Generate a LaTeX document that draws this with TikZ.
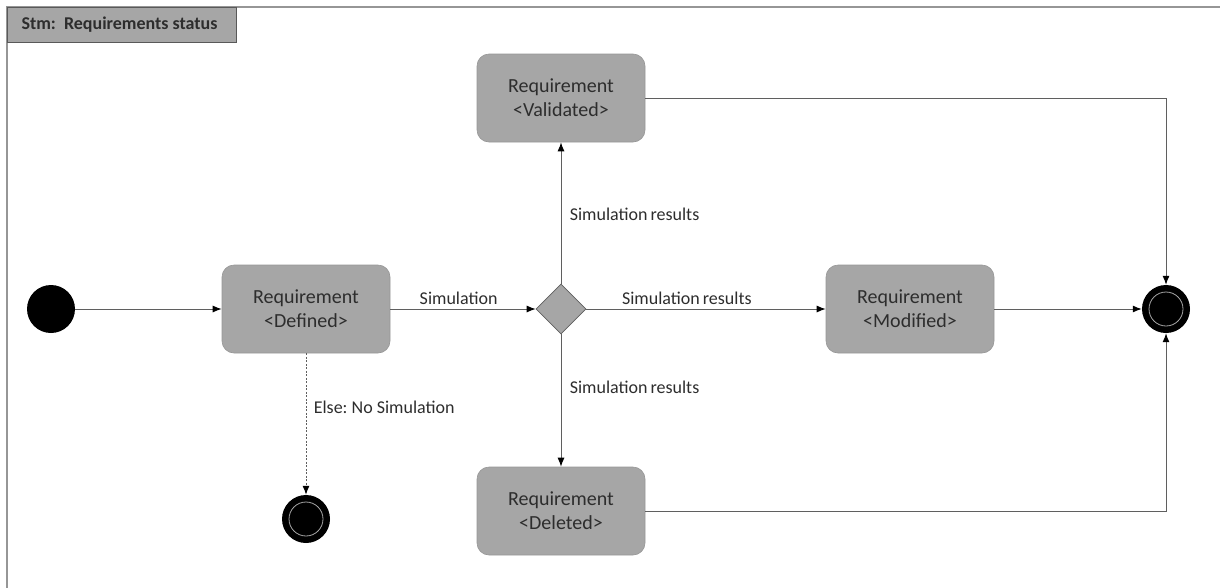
\documentclass[tikz,border=0pt]{standalone}
\usepackage{fontspec}
\setmainfont{Carlito}
\frenchspacing
\usetikzlibrary{shapes.geometric,arrows.meta}
\definecolor{boxfill}{RGB}{166,166,166}
\definecolor{boxline}{RGB}{150,150,150}
\definecolor{conn}{RGB}{95,95,95}
\definecolor{frame}{RGB}{150,150,150}
\definecolor{txt}{RGB}{45,45,45}
\tikzset{
  state/.style={draw=boxline, fill=boxfill, rounded corners=12pt, minimum width=168pt, minimum height=88pt, align=center, font=\fontsize{20}{24}\selectfont, text=txt, line width=0.6pt},
  choice/.style={diamond, draw=conn, fill=boxfill, minimum width=50pt, minimum height=50pt, inner sep=0pt, line width=0.6pt},
  initstate/.style={circle, fill=black, minimum size=48pt, inner sep=0pt},
  finalstate/.style={circle, fill=black, minimum size=48pt, inner sep=0pt, path picture={\draw[gray!70, line width=0.8pt] (path picture bounding box.center) circle (17pt);}},
  trans/.style={draw=conn, line width=1pt, -{Latex[length=9pt,width=7pt,black]}},
  lbl/.style={font=\fontsize{18}{20}\selectfont, text=txt}
}
\begin{document}
\begin{tikzpicture}[x=1pt,y=-1pt]
\useasboundingbox (0,0) rectangle (1220,587);
% frame
\draw[frame, line width=1.5pt] (7,600) -- (7,7) -- (1230,7);
\node[draw=gray!70!black, fill=boxfill, line width=0.8pt, anchor=north west, minimum width=229pt, minimum height=35pt, inner sep=0pt] (tab) at (7,7) {};
\node[font=\fontsize{18}{20}\selectfont\bfseries, text=txt, anchor=west] (tabtxt) at (18,25) {Stm:\ \ Requirements status};
% nodes
\node[initstate] (init) at (51,309) {};
\node[state] (def) at (306,309) {Requirement\\<Defined>};
\node[choice] (ch) at (561,309) {};
\node[state] (val) at (561,98) {Requirement\\<Validated>};
\node[state] (del) at (561,511) {Requirement\\<Deleted>};
\node[state] (mod) at (910,309) {Requirement\\<Modified>};
\node[finalstate] (fin) at (1166,309) {};
\node[finalstate] (fin2) at (306,519) {};
% transitions
\draw[trans] (init) -- (def);
\draw[trans] (def) -- node[lbl, above=1pt, pos=0.47] {Simulation} (ch);
\draw[trans] (ch) -- node[lbl, above=1pt, pos=0.42] {Simulation\,results} (mod);
\draw[trans] (ch) -- node[lbl, right=5pt, pos=0.49] {Simulation\,results} (val);
\draw[trans] (ch) -- node[lbl, right=5pt, pos=0.4] {Simulation\,results} (del);
\draw[trans] (mod) -- (fin);
\draw[trans] (val.east) -| (fin.north);
\draw[trans] (del.east) -| (fin.south);
\draw[trans, dash pattern=on 2pt off 1.5pt] (def) -- node[lbl, right=4pt, pos=0.38] {Else: No Simulation} (fin2);
\end{tikzpicture}
\end{document}
